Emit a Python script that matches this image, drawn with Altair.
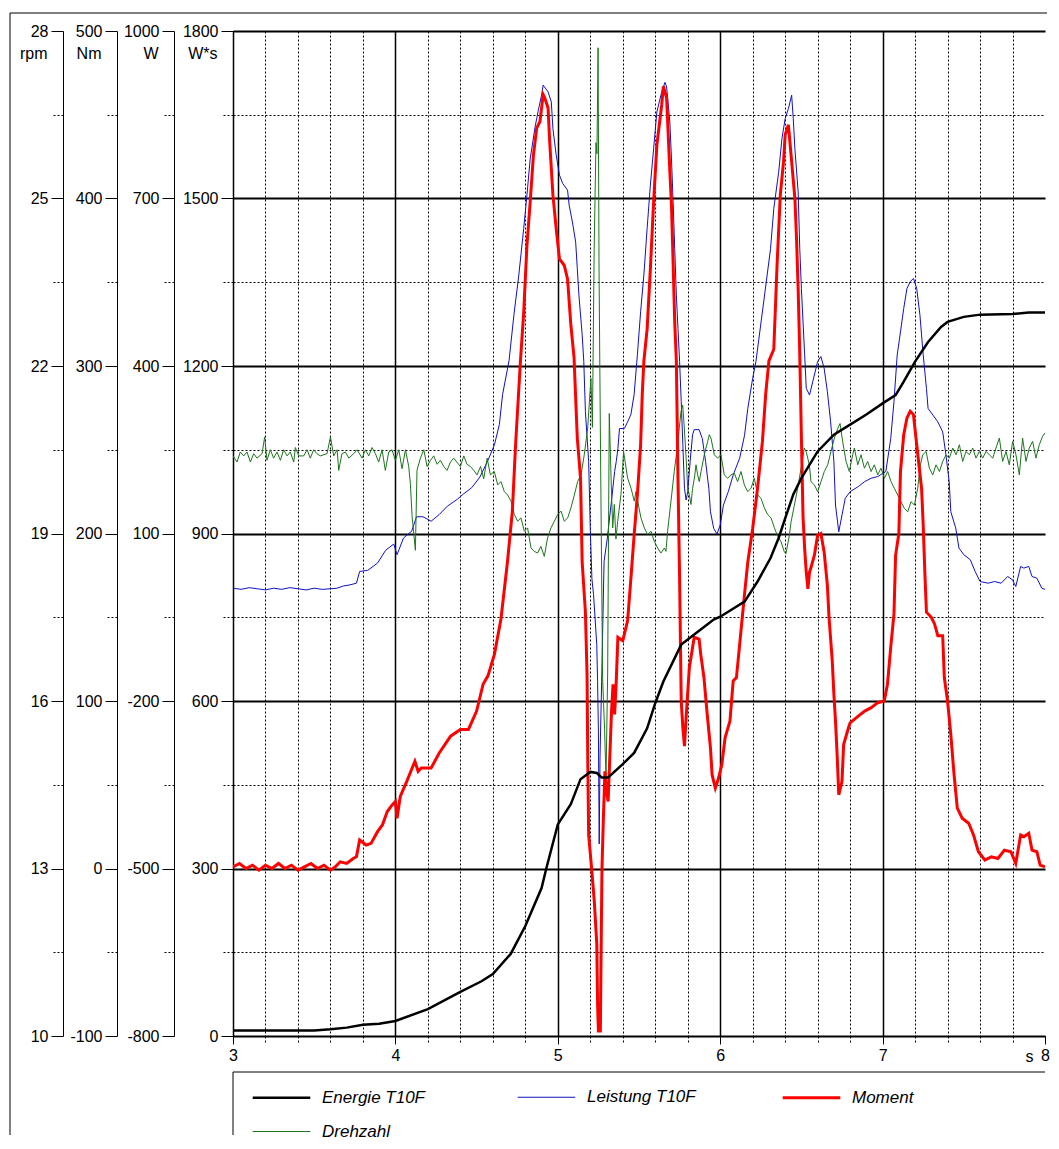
import altair as alt
import pandas as pd

# ---------------- data ----------------
energie_t = [3.0, 3.5, 3.6, 3.7, 3.8, 3.9, 4.0, 4.2, 4.4, 4.53, 4.6, 4.71, 4.8, 4.9, 4.93, 5.0, 5.08,
             5.14, 5.2, 5.24, 5.27, 5.31, 5.4, 5.47, 5.55, 5.6, 5.65, 5.71, 5.76, 5.84, 5.96, 6.0, 6.15,
             6.23, 6.31, 6.36, 6.4, 6.45, 6.5, 6.6, 6.7, 6.8, 6.9, 7.0, 7.08, 7.13, 7.2, 7.28, 7.36, 7.4,
             7.5, 7.6, 7.8, 7.9, 8.0]
energie_v = [10, 10, 12, 15, 20, 22, 27, 48, 79, 98, 111, 147, 197, 265, 301, 379, 415,
             460, 473, 471, 463, 463, 487, 507, 551, 596, 635, 671, 701, 719, 746, 751, 778,
             814, 856, 892, 927, 970, 999, 1047, 1077, 1095, 1113, 1133, 1148, 1172, 1208, 1243, 1270, 1279,
             1288, 1292, 1293, 1296, 1296]

leistung_t = [3.0, 3.05, 3.1, 3.15, 3.2, 3.25, 3.3, 3.35, 3.4, 3.45, 3.5, 3.55, 3.6, 3.64, 3.68, 3.72, 3.76,
              3.78, 3.83, 3.89, 3.94, 3.99, 4.01, 4.05, 4.1, 4.13, 4.17, 4.22, 4.27, 4.32, 4.38, 4.42, 4.47,
              4.52, 4.57, 4.61, 4.64, 4.66, 4.7, 4.73, 4.76, 4.79, 4.81, 4.83, 4.86, 4.88, 4.9, 4.91, 4.94,
              4.96, 4.97, 4.99, 5.01, 5.03, 5.06, 5.07, 5.09, 5.11, 5.12, 5.13, 5.15, 5.16, 5.17, 5.19, 5.2,
              5.21, 5.22, 5.24, 5.245, 5.25, 5.255, 5.26, 5.27, 5.285, 5.305, 5.33, 5.35, 5.36, 5.37, 5.38,
              5.41, 5.43, 5.45, 5.47, 5.49, 5.51, 5.53, 5.55, 5.57, 5.59, 5.61, 5.64, 5.66, 5.67, 5.69, 5.7,
              5.71, 5.72, 5.73, 5.74, 5.75, 5.76, 5.77, 5.78, 5.79, 5.8, 5.815, 5.83, 5.84, 5.87, 5.89, 5.91,
              5.93, 5.94, 5.96, 5.98, 6.0, 6.02, 6.05, 6.08, 6.12, 6.15, 6.17, 6.2, 6.22, 6.27, 6.31, 6.33,
              6.36, 6.38, 6.4, 6.42, 6.44, 6.45, 6.46, 6.48, 6.49, 6.5, 6.52, 6.53, 6.55, 6.57, 6.6, 6.62,
              6.64, 6.66, 6.68, 6.7, 6.71, 6.73, 6.75, 6.77, 6.8, 6.85, 6.89, 6.93, 6.97, 7.02, 7.05, 7.07,
              7.09, 7.11, 7.13, 7.15, 7.17, 7.19, 7.21, 7.23, 7.25, 7.27, 7.28, 7.31, 7.34, 7.37, 7.39, 7.41,
              7.42, 7.45, 7.47, 7.5, 7.54, 7.57, 7.6, 7.65, 7.69, 7.73, 7.77, 7.8, 7.82, 7.85, 7.87, 7.9,
              7.92, 7.95, 7.98, 8.0]
leistung_v = [2, 0, 3, 1, -1, 2, 0, 3, 1, -1, 2, 0, 1, 2, 6, 8, 11,
              32, 34, 47, 70, 81, 62, 92, 104, 130, 130, 122, 134, 149, 161, 171, 182,
              201, 231, 259, 295, 349, 410, 492, 563, 646, 706, 771, 828, 858, 885, 903, 891,
              873, 825, 778, 742, 727, 715, 688, 658, 622, 575, 527, 456, 408, 318, 229, 109,
              19, -9, -99, -165, -254, -456, -300, -165, 50, 92, 157, 211, 229, 252, 288,
              288, 300, 313, 349, 420, 497, 563, 646, 724, 789, 855, 891, 908, 900, 837, 771,
              694, 610, 527, 467, 408, 336, 259, 181, 160, 175, 229, 277, 286, 286, 270, 229,
              181, 139, 109, 99, 115, 151, 175, 205, 235, 276, 324, 378, 408, 520, 610, 682,
              747, 807, 843, 861, 885, 843, 789, 712, 610, 539, 420, 360, 348, 372, 408, 417,
              396, 354, 300, 229, 151, 103, 133, 163, 175, 184, 193, 199, 202, 211, 270, 336,
              420, 461, 503, 539, 551, 557, 539, 491, 420, 360, 324, 312, 300, 282, 241, 193,
              139, 110, 74, 62, 53, 32, 14, 11, 14, 11, 23, 17, 5, 41, 38, 41,
              23, 20, 2, 0]

moment_t = [3.0, 3.04, 3.08, 3.12, 3.16, 3.2, 3.24, 3.28, 3.32, 3.36, 3.4, 3.44, 3.48, 3.52, 3.56, 3.6,
            3.63, 3.66, 3.7, 3.74, 3.76, 3.78, 3.82, 3.85, 3.89, 3.92, 3.95, 3.98, 4.0, 4.01, 4.03, 4.07,
            4.12, 4.14, 4.16, 4.22, 4.27, 4.34, 4.4, 4.45, 4.5, 4.54, 4.57, 4.61, 4.65, 4.69, 4.72, 4.74,
            4.77, 4.79, 4.81, 4.83, 4.85, 4.87, 4.89, 4.91, 4.92, 4.94, 4.95, 4.97, 4.99, 5.01, 5.04, 5.06,
            5.08, 5.1, 5.12, 5.14, 5.15, 5.17, 5.18, 5.185, 5.19, 5.21, 5.225, 5.24, 5.245, 5.25, 5.262,
            5.268, 5.272, 5.28, 5.29, 5.3, 5.31, 5.33, 5.34, 5.35, 5.36, 5.37, 5.4, 5.43, 5.45, 5.47, 5.49,
            5.51, 5.52, 5.53, 5.55, 5.57, 5.59, 5.61, 5.64, 5.65, 5.67, 5.69, 5.7, 5.71, 5.72, 5.73, 5.74,
            5.75, 5.755, 5.76, 5.77, 5.78, 5.79, 5.81, 5.84, 5.87, 5.88, 5.9, 5.92, 5.94, 5.95, 5.97, 5.99,
            6.01, 6.03, 6.06, 6.08, 6.1, 6.12, 6.15, 6.17, 6.2, 6.23, 6.26, 6.28, 6.3, 6.33, 6.35, 6.37,
            6.39, 6.4, 6.42, 6.44, 6.46, 6.47, 6.48, 6.49, 6.5, 6.51, 6.52, 6.53, 6.54, 6.55, 6.56, 6.58,
            6.6, 6.62, 6.64, 6.66, 6.67, 6.69, 6.7, 6.71, 6.72, 6.73, 6.75, 6.76, 6.79, 6.8, 6.85, 6.89,
            6.93, 6.97, 7.01, 7.03, 7.05, 7.07, 7.08, 7.1, 7.11, 7.13, 7.15, 7.17, 7.19, 7.21, 7.24, 7.25,
            7.26, 7.27, 7.3, 7.32, 7.34, 7.37, 7.38, 7.4, 7.42, 7.44, 7.46, 7.49, 7.53, 7.56, 7.59, 7.63,
            7.67, 7.71, 7.75, 7.79, 7.82, 7.85, 7.87, 7.9, 7.92, 7.95, 7.97, 8.0]
moment_v = [1, 3, 0, 2, -1, 2, 0, 3, 0, 2, -1, 1, 3, 0, 2, -1,
            1, 4, 3, 6, 7, 17, 14, 15, 22, 26, 34, 38, 40, 30, 43, 52,
            64, 58, 60, 60, 69, 79, 83, 83, 94, 110, 115, 128, 149, 183, 213, 253,
            303, 332, 372, 398, 426, 442, 446, 462, 460, 454, 434, 402, 382, 364, 360, 352,
            325, 305, 257, 233, 183, 153, 116, 60, 20, -2, -20, -45, -81, -97, -97,
            -37, 0, 28, 58, 46, 40, 92, 110, 92, 112, 138, 136, 148, 173, 199, 223,
            253, 283, 303, 322, 358, 398, 432, 456, 467, 460, 416, 396, 362, 326, 303, 233,
            173, 136, 100, 84, 73, 90, 120, 138, 137, 128, 114, 92, 72, 56, 48, 54,
            62, 78, 88, 112, 114, 134, 164, 183, 203, 227, 255, 283, 303, 310, 360, 402,
            422, 438, 444, 422, 400, 376, 346, 307, 257, 210, 191, 177, 167, 177, 180, 187,
            199, 200, 189, 169, 150, 124, 104, 88, 68, 44, 52, 74, 84, 87, 91, 94,
            96, 99, 100, 110, 132, 152, 187, 200, 237, 259, 269, 273, 271, 253, 227, 205,
            177, 153, 150, 146, 139, 139, 114, 100, 80, 56, 36, 30, 27, 20, 10, 5,
            7, 6, 11, 10, 3, 20, 19, 21, 11, 10, 2, 1]

drehzahl_t = [3.0, 3.025, 3.045, 3.066, 3.086, 3.107, 3.127, 3.148, 3.179, 3.195, 3.209, 3.23, 3.25, 3.271,
              3.292, 3.312, 3.333, 3.353, 3.374, 3.384, 3.405, 3.435, 3.456, 3.476, 3.497, 3.517, 3.538,
              3.579, 3.6, 3.62, 3.641, 3.651, 3.671, 3.692, 3.713, 3.743, 3.764, 3.795, 3.815, 3.836, 3.856,
              3.877, 3.897, 3.918, 3.938, 3.959, 3.979, 4.0, 4.021, 4.041, 4.062, 4.082, 4.092, 4.103, 4.113,
              4.123, 4.133, 4.154, 4.175, 4.195, 4.216, 4.236, 4.257, 4.277, 4.298, 4.318, 4.339, 4.359, 4.4,
              4.421, 4.441, 4.462, 4.483, 4.503, 4.524, 4.544, 4.565, 4.585, 4.609, 4.63, 4.65, 4.671, 4.691,
              4.712, 4.732, 4.753, 4.773, 4.794, 4.814, 4.835, 4.855, 4.876, 4.896, 4.917, 4.937, 4.958, 4.979,
              4.999, 5.02, 5.04, 5.061, 5.081, 5.102, 5.122, 5.143, 5.163, 5.184, 5.204, 5.213, 5.224, 5.235,
              5.241, 5.248, 5.254, 5.263, 5.276, 5.288, 5.297, 5.307, 5.317, 5.328, 5.338, 5.348, 5.358,
              5.369, 5.389, 5.405, 5.43, 5.451, 5.471, 5.481, 5.492, 5.512, 5.533, 5.553, 5.574, 5.594,
              5.615, 5.635, 5.656, 5.666, 5.676, 5.697, 5.717, 5.738, 5.748, 5.759, 5.769, 5.779, 5.789,
              5.8, 5.81, 5.82, 5.83, 5.841, 5.851, 5.861, 5.871, 5.882, 5.902, 5.923, 5.933, 5.943, 5.964,
              5.984, 6.005, 6.025, 6.046, 6.066, 6.087, 6.107, 6.128, 6.149, 6.169, 6.19, 6.21, 6.231,
              6.251, 6.272, 6.292, 6.313, 6.334, 6.354, 6.375, 6.395, 6.405, 6.426, 6.436, 6.457, 6.477,
              6.498, 6.518, 6.529, 6.549, 6.559, 6.58, 6.6, 6.621, 6.641, 6.662, 6.682, 6.703, 6.724,
              6.738, 6.754, 6.775, 6.795, 6.816, 6.826, 6.847, 6.867, 6.888, 6.908, 6.929, 6.949, 6.97,
              6.99, 7.011, 7.031, 7.052, 7.072, 7.093, 7.113, 7.134, 7.155, 7.175, 7.196, 7.216, 7.233,
              7.247, 7.268, 7.288, 7.309, 7.329, 7.35, 7.37, 7.391, 7.411, 7.432, 7.452, 7.473, 7.493,
              7.514, 7.534, 7.555, 7.575, 7.596, 7.616, 7.637, 7.657, 7.678, 7.698, 7.719, 7.739, 7.76,
              7.78, 7.801, 7.821, 7.842, 7.862, 7.883, 7.903, 7.924, 7.944, 7.965, 7.985, 8.0]
drehzahl_v = [20.39, 20.28, 20.46, 20.39, 20.46, 20.28, 20.43, 20.35, 20.43, 20.73, 20.31, 20.5, 20.35, 20.46,
              20.31, 20.5, 20.39, 20.46, 20.28, 20.54, 20.39, 20.39, 20.5, 20.35, 20.5, 20.43, 20.39,
              20.43, 20.73, 20.39, 20.5, 20.13, 20.43, 20.46, 20.35, 20.43, 20.5, 20.35, 20.5, 20.39, 20.54,
              20.43, 20.28, 20.5, 20.13, 20.46, 20.5, 20.31, 20.5, 20.16, 20.5, 20.2, 19.9, 19.3, 19.0,
              18.7, 20.13, 20.35, 20.5, 20.2, 20.31, 20.39, 20.24, 20.31, 20.2, 20.13, 20.28, 20.35, 20.2,
              20.39, 20.24, 20.2, 20.13, 20.05, 20.2, 19.98, 20.35, 20.05, 20.11, 19.87, 19.93, 19.75, 19.69,
              19.58, 19.34, 19.22, 19.28, 19.04, 19.1, 18.74, 18.68, 18.65, 18.77, 18.59, 18.92, 19.1, 19.22,
              19.34, 19.4, 19.22, 19.28, 19.46, 19.69, 19.93, 20.05, 20.41, 20.89, 21.78, 20.9, 24.1, 26.0,
              25.8, 27.7, 23.7, 20.5, 16.4, 15.5, 14.6, 16.5, 21.15, 19.99, 19.1, 19.52, 18.9,
              19.22, 19.7, 20.47, 19.99, 19.81, 19.58, 19.75, 19.58, 19.28, 19.1, 18.98, 19.04, 18.86,
              18.74, 18.65, 18.74, 18.68, 19.04, 19.58, 20.11, 20.59, 20.89, 21.19, 21.3, 20.89, 20.41,
              19.81, 19.69, 19.52, 19.81, 19.99, 20.23, 20.05, 19.93, 20.11, 20.41, 20.65, 20.77, 20.71, 20.41,
              20.35, 20.41, 20.05, 19.99, 20.05, 20.08, 19.93, 20.11, 19.87, 19.75, 19.81, 19.99, 19.69,
              19.63, 19.46, 19.34, 19.28, 19.1, 18.95, 18.85, 18.67, 18.64, 18.97, 19.2, 19.51, 19.81,
              20.17, 20.53, 20.47, 20.23, 19.93, 19.87, 19.75, 19.93, 20.11, 20.23, 20.47, 20.71, 20.88,
              20.97, 20.65, 20.29, 20.11, 20.41, 20.53, 20.23, 20.41, 20.17, 20.29, 20.11, 20.23, 20.05,
              20.17, 19.99, 20.11, 19.93, 19.81, 19.69, 19.57, 19.45, 19.39, 19.57, 19.51, 19.81, 20.23,
              20.41, 20.47, 20.17, 20.05, 20.23, 20.11, 20.29, 20.41, 20.35, 20.53, 20.41, 20.59, 20.29,
              20.47, 20.41, 20.53, 20.35, 20.47, 20.35, 20.47, 20.41, 20.35, 20.53, 20.71, 20.29, 20.47,
              20.23, 20.65, 20.41, 20.05, 20.71, 20.29, 20.53, 20.65, 20.35, 20.59, 20.74, 20.8]

series_names = ["Energie T10F", "Leistung T10F", "Moment", "Drehzahl"]
series_colors = ["#000000", "#1010C0", "#FF0000", "#1E741E"]
series_widths = [2.5, 1.0, 3.0, 1.0]

x_ticks = [round(3 + 0.2 * i, 1) for i in range(26)]
ws_ticks = list(range(0, 1801, 150))
w_ticks = list(range(-800, 1001, 150))
nm_ticks = list(range(-100, 501, 50))
rpm_ticks = [10 + 1.5 * i for i in range(13)]

FONT = "Liberation Sans"
PW, PH = 812, 1005
DOT = [2, 2]

# ---------------- encodings ----------------
major_x = "abs(datum.value - round(datum.value)) < 0.01"
xaxis = alt.Axis(
    values=x_ticks, title="s", titleX=800, titleY=20, titleAlign="right", titleBaseline="middle",
    titleAngle=0, titleFontSize=16, titleFontWeight="normal", titleColor="black",
    labelExpr=f"{major_x} ? '' + round(datum.value) : ''", labelFontSize=16, labelColor="black",
    labelPadding=3, labelFlush=False, labelOverlap=False, labelBound=False,
    tickSize=8, tickColor="black",
    tickDash={"condition": {"test": major_x, "value": []}, "value": DOT},
    domainColor="black", domainWidth=1,
    grid=True, gridColor="black",
    gridDash={"condition": {"test": major_x, "value": []}, "value": DOT},
    gridWidth={"condition": {"test": major_x, "value": 1.5}, "value": 1},
    gridOpacity={"condition": {"test": "datum.value > 7.99", "value": 0}, "value": 1},
)
xscale = alt.Scale(domain=[3, 8], nice=False, zero=False)


def yaxis(values, test, offset, title, grid=False):
    kw = dict(
        values=values, orient="left", offset=offset, title=title, titleAngle=0,
        titleAlign="right", titleBaseline="middle", titleX=-16, titleY=22,
        titleFontSize=16, titleFontWeight="normal", titleColor="black",
        labelExpr=f"{test} ? '' + datum.value : ''", labelFontSize=16, labelColor="black",
        labelPadding=3, labelOverlap=False, labelFlush=False, labelBound=False,
        tickSize=12, tickColor="black",
        tickDash={"condition": {"test": test, "value": []}, "value": DOT},
        domainColor="black", domainWidth=1, grid=grid,
    )
    if grid:
        kw.update(
            gridColor="black",
            gridDash={"condition": {"test": test, "value": []}, "value": DOT},
            gridWidth={"condition": {"test": test, "value": 2}, "value": 1},
            gridOpacity=1,
        )
    return alt.Axis(**kw)


legend = alt.Legend(
    title=None, orient="none", legendX=18, legendY=1057, direction="horizontal", columns=3,
    values=series_names,
    symbolType="M-3.6,0H3.6", symbolSize=256, symbolOffset=21,
    labelOffset=31, labelFont=FONT, labelFontSize=17, labelFontStyle="italic", labelColor="black",
    columnPadding=80, rowPadding=16, gridAlign="all", padding=0,
)
color_enc = alt.Color("series:N", sort=series_names,
                      scale=alt.Scale(domain=series_names, range=series_colors), legend=legend)
width_enc = alt.StrokeWidth("series:N", sort=series_names,
                            scale=alt.Scale(type="ordinal", domain=series_names, range=series_widths),
                            legend=legend)


def series_layer(name, t, v, domain, axis):
    df = pd.DataFrame({"t": t, "v": v, "series": name})
    return alt.Chart(df).mark_line(clip=True).encode(
        x=alt.X("t:Q", scale=xscale, axis=xaxis),
        y=alt.Y("v:Q", scale=alt.Scale(domain=domain, nice=False, zero=False), axis=axis),
        color=color_enc,
        strokeWidth=width_enc,
    )


leistung = series_layer("Leistung T10F", leistung_t, leistung_v, [-800, 1000],
                        yaxis(w_ticks, "(datum.value + 800) % 300 == 0", 59, "W"))
drehzahl = series_layer("Drehzahl", drehzahl_t, drehzahl_v, [10, 28],
                        yaxis(rpm_ticks, "abs((datum.value - 10) % 3) < 0.01", 170, "rpm"))
moment = series_layer("Moment", moment_t, moment_v, [-100, 500],
                      yaxis(nm_ticks, "datum.value % 100 == 0", 116, "Nm"))
energie = series_layer("Energie T10F", energie_t, energie_v, [0, 1800],
                       yaxis(ws_ticks, "datum.value % 300 == 0", 0, "W*s", grid=True))

one = pd.DataFrame({"k": [0]})
frame_left = alt.Chart(one).mark_rule(color="black", strokeWidth=1).encode(
    x=alt.value(-223), y=alt.value(-18), y2=alt.value(1104))
frame_top = alt.Chart(one).mark_rule(color="black", strokeWidth=1).encode(
    x=alt.value(-223), x2=alt.value(814), y=alt.value(-18))
box_top = alt.Chart(one).mark_rule(color="black", strokeWidth=1).encode(
    x=alt.value(0), x2=alt.value(812), y=alt.value(1041))
box_left = alt.Chart(one).mark_rule(color="black", strokeWidth=1).encode(
    x=alt.value(0), y=alt.value(1041), y2=alt.value(1104))

chart = alt.layer(
    leistung, drehzahl, moment, energie, frame_left, frame_top, box_top, box_left
).resolve_scale(y="independent").properties(
    width=PW, height=PH, padding={"left": 1, "top": 4, "right": 0, "bottom": 0}
).configure(font=FONT).configure_view(stroke=None)

chart.save("out.html", embed_options={"renderer": "svg", "actions": False})
